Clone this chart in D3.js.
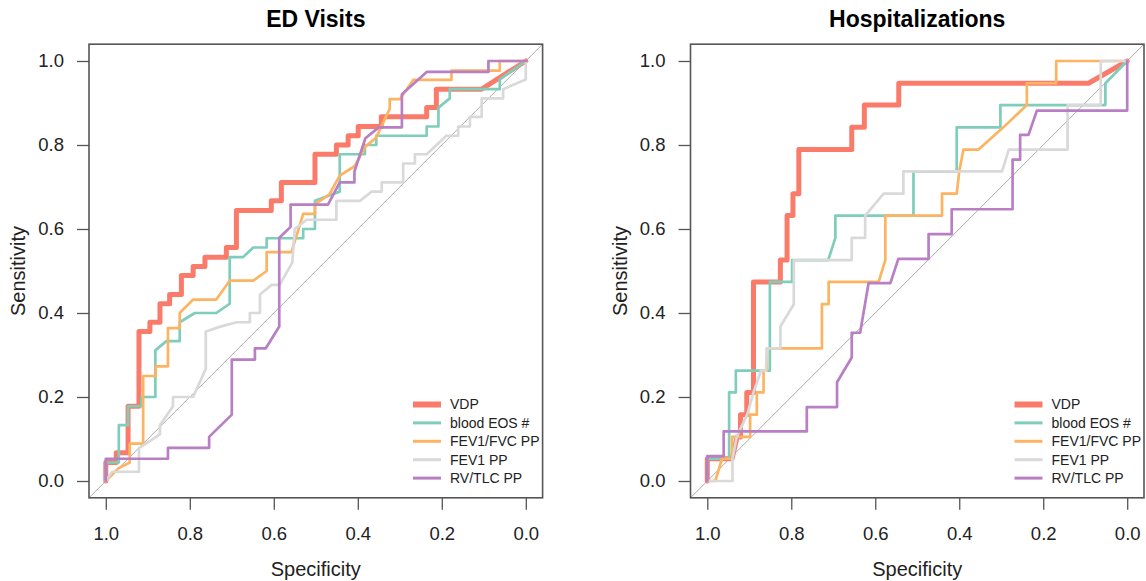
<!DOCTYPE html>
<html>
<head>
<meta charset="utf-8">
<script src="https://cdn.jsdelivr.net/npm/d3@7"></script>
<style>
  body { margin: 0; background: #fff; }
  svg { font-family: "Liberation Sans", Arial, sans-serif; }
</style>
</head>
<body>
<svg width="1146" height="581"></svg>
<script>
// ROC curves as [specificity, sensitivity] points
var edVDP = [[1,0],[1,0.044],[0.975,0.044],[0.975,0.067],[0.947,0.067],[0.947,0.178],[0.921,0.178],[0.921,0.356],[0.895,0.356],[0.895,0.378],[0.871,0.378],[0.871,0.422],[0.848,0.422],[0.848,0.444],[0.820,0.444],[0.820,0.489],[0.792,0.489],[0.792,0.511],[0.764,0.511],[0.764,0.533],[0.713,0.533],[0.713,0.556],[0.689,0.556],[0.689,0.644],[0.606,0.644],[0.606,0.667],[0.582,0.667],[0.582,0.711],[0.502,0.711],[0.502,0.778],[0.451,0.778],[0.451,0.800],[0.423,0.800],[0.423,0.822],[0.399,0.822],[0.399,0.844],[0.344,0.844],[0.344,0.867],[0.236,0.867],[0.236,0.889],[0.213,0.889],[0.213,0.933],[0.105,0.933],[0,1]];
var edEOS = [[1,0],[1,0.044],[0.969,0.044],[0.969,0.133],[0.947,0.133],[0.947,0.178],[0.915,0.178],[0.915,0.2],[0.882,0.2],[0.882,0.311],[0.856,0.333],[0.824,0.333],[0.824,0.378],[0.788,0.4],[0.737,0.4],[0.705,0.422],[0.705,0.533],[0.673,0.533],[0.649,0.556],[0.617,0.556],[0.617,0.578],[0.530,0.578],[0.530,0.6],[0.502,0.6],[0.502,0.667],[0.443,0.689],[0.443,0.778],[0.383,0.778],[0.383,0.8],[0.356,0.8],[0.356,0.822],[0.236,0.822],[0.236,0.844],[0.208,0.844],[0.208,0.889],[0.181,0.911],[0.181,0.933],[0.062,0.933],[0.062,0.956],[0,1]];
var edFevFvc = [[1,0],[0.97,0.03],[0.943,0.044],[0.943,0.089],[0.911,0.089],[0.911,0.25],[0.881,0.25],[0.881,0.273],[0.852,0.273],[0.852,0.364],[0.824,0.364],[0.824,0.4],[0.792,0.432],[0.737,0.432],[0.705,0.477],[0.649,0.477],[0.617,0.5],[0.617,0.545],[0.558,0.545],[0.530,0.636],[0.502,0.636],[0.502,0.659],[0.468,0.682],[0.443,0.727],[0.407,0.75],[0.383,0.795],[0.356,0.818],[0.324,0.886],[0.324,0.909],[0.300,0.909],[0.268,0.955],[0.177,0.955],[0.177,0.977],[0.062,0.977],[0.062,1],[0,1]];
var edFev1 = [[1,0],[0.985,0.022],[0.921,0.022],[0.921,0.078],[0.871,0.111],[0.871,0.133],[0.84,0.178],[0.84,0.2],[0.792,0.2],[0.762,0.267],[0.762,0.356],[0.729,0.367],[0.689,0.378],[0.657,0.378],[0.657,0.4],[0.633,0.4],[0.633,0.444],[0.605,0.467],[0.586,0.467],[0.556,0.52],[0.55,0.6],[0.522,0.622],[0.451,0.622],[0.451,0.667],[0.395,0.667],[0.367,0.689],[0.343,0.689],[0.343,0.711],[0.292,0.711],[0.292,0.756],[0.264,0.756],[0.264,0.778],[0.236,0.778],[0.189,0.822],[0.161,0.822],[0.161,0.844],[0.133,0.844],[0.133,0.867],[0.105,0.867],[0.105,0.911],[0.054,0.911],[0.054,0.933],[0,0.956],[0,1]];
var edRvTlc = [[1,0],[1,0.053],[0.852,0.053],[0.852,0.079],[0.754,0.079],[0.754,0.105],[0.70,0.158],[0.70,0.289],[0.645,0.289],[0.645,0.316],[0.619,0.316],[0.587,0.368],[0.587,0.579],[0.560,0.605],[0.560,0.658],[0.471,0.658],[0.443,0.711],[0.408,0.711],[0.408,0.737],[0.382,0.816],[0.350,0.842],[0.295,0.842],[0.295,0.921],[0.236,0.974],[0.089,0.974],[0.089,1],[0,1]];

var hospVDP = [[1,0],[1,0.053],[0.941,0.053],[0.929,0.105],[0.921,0.105],[0.921,0.158],[0.906,0.158],[0.906,0.211],[0.890,0.211],[0.890,0.474],[0.826,0.474],[0.826,0.526],[0.810,0.526],[0.810,0.632],[0.796,0.632],[0.796,0.684],[0.782,0.684],[0.782,0.789],[0.656,0.789],[0.656,0.842],[0.626,0.842],[0.626,0.895],[0.544,0.895],[0.544,0.947],[0.092,0.947],[0,1]];
var hospEOS = [[1,0],[1,0.053],[0.948,0.053],[0.948,0.211],[0.932,0.211],[0.932,0.263],[0.851,0.263],[0.851,0.474],[0.798,0.474],[0.798,0.526],[0.712,0.526],[0.695,0.579],[0.695,0.632],[0.509,0.632],[0.509,0.737],[0.406,0.737],[0.406,0.842],[0.302,0.842],[0.302,0.895],[0.052,0.895],[0.052,0.947],[0,1]];
var hospFevFvc = [[1,0],[0.981,0],[0.965,0.053],[0.941,0.053],[0.941,0.105],[0.898,0.105],[0.898,0.158],[0.882,0.158],[0.882,0.211],[0.866,0.211],[0.866,0.263],[0.858,0.263],[0.858,0.316],[0.727,0.316],[0.727,0.421],[0.711,0.421],[0.711,0.474],[0.592,0.474],[0.576,0.526],[0.576,0.632],[0.441,0.632],[0.441,0.684],[0.406,0.684],[0.400,0.737],[0.390,0.789],[0.354,0.789],[0.295,0.842],[0.239,0.895],[0.239,0.947],[0.169,0.947],[0.169,1],[0,1]];
var hospFev1 = [[1,0],[0.94,0],[0.94,0.053],[0.93,0.105],[0.905,0.158],[0.89,0.211],[0.872,0.263],[0.86,0.263],[0.858,0.316],[0.826,0.316],[0.826,0.368],[0.794,0.421],[0.794,0.526],[0.656,0.526],[0.656,0.579],[0.624,0.579],[0.624,0.632],[0.580,0.684],[0.533,0.684],[0.533,0.737],[0.298,0.737],[0.282,0.789],[0.142,0.789],[0.142,0.895],[0.063,0.895],[0.063,1],[0,1]];
var hospRvTlc = [[1,0],[1,0.059],[0.961,0.059],[0.961,0.118],[0.763,0.118],[0.763,0.176],[0.691,0.176],[0.691,0.235],[0.656,0.294],[0.656,0.353],[0.636,0.353],[0.616,0.471],[0.564,0.471],[0.545,0.529],[0.473,0.529],[0.473,0.588],[0.418,0.588],[0.418,0.647],[0.273,0.647],[0.273,0.765],[0.255,0.765],[0.255,0.824],[0.235,0.824],[0.215,0.882],[0,0.882],[0,1]];

var seriesNames = ["VDP", "blood EOS #", "FEV1/FVC PP", "FEV1 PP", "RV/TLC PP"];
var seriesColors = ["#fb7b6b", "#7fcdbb", "#fdb462", "#d9d9d9", "#b97fc4"];
var seriesWidths = [5, 2.7, 2.7, 2.7, 2.7];
var axisTicks = [0, 0.2, 0.4, 0.6, 0.8, 1.0];

var panels = [
  { title: "ED Visits", left: 89, right: 542.6, curves: [edVDP, edEOS, edFevFvc, edFev1, edRvTlc] },
  { title: "Hospitalizations", left: 690.5, right: 1144, curves: [hospVDP, hospEOS, hospFevFvc, hospFev1, hospRvTlc] }
];

var svg = d3.select("svg");
var plotTop = 44.2, plotBottom = 497.8;

panels.forEach(function(p, pi) {
  var x = d3.scaleLinear().domain([1.04, -0.04]).range([p.left, p.right]);
  var y = d3.scaleLinear().domain([-0.04, 1.04]).range([plotBottom, plotTop]);
  var g = svg.append("g");

  // clip to the plot box
  g.append("clipPath").attr("id", "clip" + pi)
    .append("rect").attr("x", p.left).attr("y", plotTop)
    .attr("width", p.right - p.left).attr("height", plotBottom - plotTop);

  var plot = g.append("g").attr("clip-path", "url(#clip" + pi + ")");

  // chance line
  plot.append("line")
    .attr("x1", x(1.04)).attr("y1", y(-0.04))
    .attr("x2", x(-0.04)).attr("y2", y(1.04))
    .attr("stroke", "#aaa").attr("stroke-width", 1);

  var line = d3.line()
    .x(function(d) { return x(d[0]); })
    .y(function(d) { return y(d[1]); });

  p.curves.forEach(function(c, i) {
    plot.append("path")
      .datum(c)
      .attr("d", line)
      .attr("fill", "none")
      .attr("stroke", seriesColors[i])
      .attr("stroke-width", seriesWidths[i])
      .attr("stroke-linejoin", "round")
      .attr("stroke-linecap", "round");
  });

  // box
  g.append("rect")
    .attr("x", p.left).attr("y", plotTop)
    .attr("width", p.right - p.left).attr("height", plotBottom - plotTop)
    .attr("fill", "none").attr("stroke", "#555").attr("stroke-width", 1.6);

  // axes
  var xAxis = g.append("g")
    .attr("transform", "translate(0," + plotBottom + ")")
    .call(d3.axisBottom(x).tickValues(axisTicks).tickFormat(d3.format(".1f")).tickSize(12).tickPadding(17));
  var yAxis = g.append("g")
    .attr("transform", "translate(" + p.left + ",0)")
    .call(d3.axisLeft(y).tickValues(axisTicks).tickFormat(d3.format(".1f")).tickSize(12).tickPadding(13));
  [xAxis, yAxis].forEach(function(a) {
    a.select(".domain").remove();
    a.selectAll(".tick line").attr("stroke", "#555").attr("stroke-width", 1.3);
    a.selectAll(".tick text").attr("fill", "#222").style("font-size", "18.5px").style("font-family", "'Liberation Sans', Arial, sans-serif");
  });

  var cx = (p.left + p.right) / 2;
  g.append("text")
    .attr("x", cx).attr("y", 27)
    .attr("text-anchor", "middle")
    .style("font-size", "23px").style("font-weight", "bold")
    .attr("fill", "#000")
    .text(p.title);

  g.append("text")
    .attr("x", cx).attr("y", 576)
    .attr("text-anchor", "middle")
    .style("font-size", "20px").attr("fill", "#222")
    .text("Specificity");

  g.append("text")
    .attr("transform", "translate(" + (p.left - 64) + "," + ((plotTop + plotBottom) / 2) + ") rotate(-90)")
    .attr("text-anchor", "middle")
    .style("font-size", "20px").attr("fill", "#222")
    .text("Sensitivity");

  // legend
  var lg = g.append("g").attr("transform", "translate(" + (p.left + 324) + ",404.5)");
  seriesNames.forEach(function(name, i) {
    var row = lg.append("g").attr("transform", "translate(0," + (i * 18.4) + ")");
    row.append("line")
      .attr("x1", 0).attr("x2", 28).attr("y1", 0).attr("y2", 0)
      .attr("stroke", seriesColors[i])
      .attr("stroke-width", i === 0 ? 6 : 3);
    row.append("text")
      .attr("x", 37).attr("y", 0).attr("dy", "0.35em")
      .style("font-size", "14px").attr("fill", "#222")
      .text(name);
  });
});
</script>
</body>
</html>
